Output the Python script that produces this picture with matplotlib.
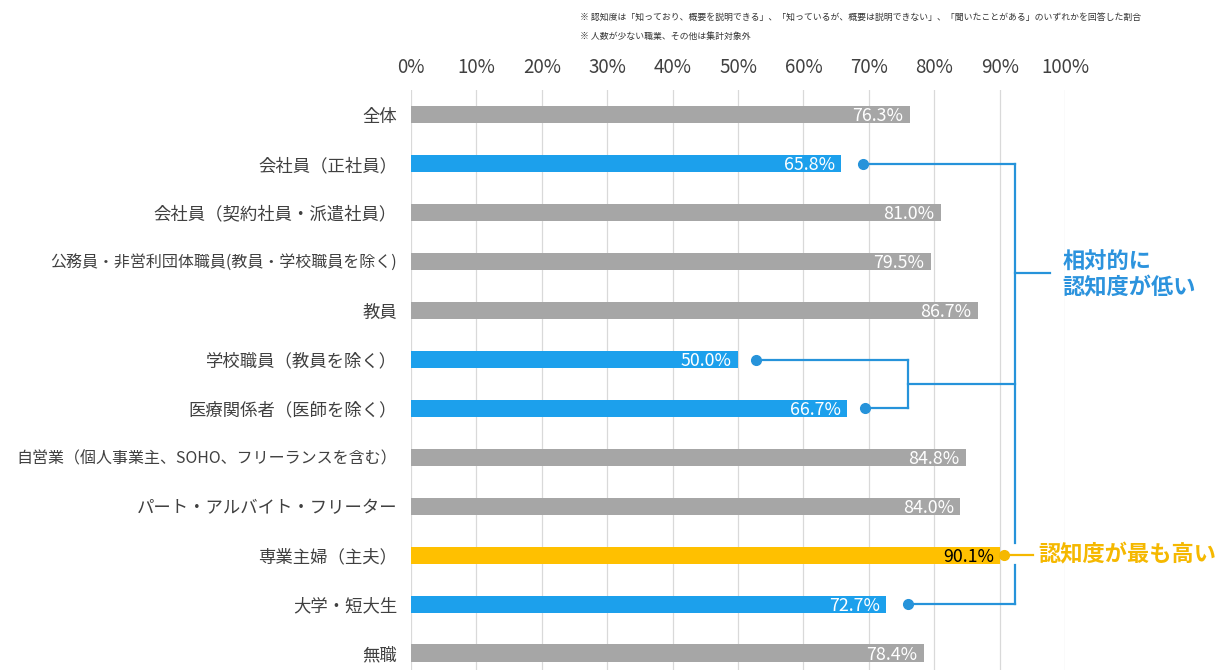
import matplotlib.pyplot as plt
import numpy as np

plt.rcParams['font.family'] = ['Noto Sans CJK JP', 'DejaVu Sans']

# データ
categories = ['全体', '会社員（正社員）', '会社員（契約社員・派遣社員）',
              '公務員・非営利団体職員(教員・学校職員を除く)', '教員',
              '学校職員（教員を除く）', '医療関係者（医師を除く）',
              '自営業（個人事業主、SOHO、フリーランスを含む）',
              'パート・アルバイト・フリーター', '専業主婦（主夫）', '大学・短大生', '無職']
values = [76.3, 65.8, 81.0, 79.5, 86.7, 50.0, 66.7, 84.8, 84.0, 90.1, 72.7, 78.4]
groups = ['other', 'low', 'other', 'other', 'other', 'low', 'low',
          'other', 'other', 'high', 'low', 'other']
ticks = [0, 10, 20, 30, 40, 50, 60, 70, 80, 90, 100]
tick_labels = [f'{t}%' for t in ticks]

colors = {'other': '#A6A6A6', 'low': '#1CA0EC', 'high': '#FFC000'}
line_blue = '#2693DA'
text_blue = '#2C93DD'
gold = '#F5B800'

fig = plt.figure(figsize=(12.29, 6.70), dpi=100)
ax = fig.add_axes([0.3344, -0.0112, 0.5322, 0.8762])

y_pos = np.arange(len(categories))
ax.barh(y_pos, values, height=0.35, color=[colors[g] for g in groups], zorder=3)

ax.set_xlim(0, 100)
ax.set_ylim(len(categories) - 0.5, -0.5)
ax.xaxis.tick_top()
ax.set_xticks(ticks)
ax.set_xticklabels(tick_labels, fontsize=13.5, color='#404040')
ax.set_yticks(y_pos)
ax.set_yticklabels(categories, fontsize=12.5, color='#404040')
# 長いラベルは少し小さく
for lab in ax.get_yticklabels():
    if len(lab.get_text()) > 22:
        lab.set_fontsize(11.5)
ax.tick_params(axis='x', length=0, pad=9)
ax.tick_params(axis='y', length=0, pad=10)
ax.xaxis.grid(True, color='#D9D9D9', linewidth=0.9, zorder=0)
for s in ax.spines.values():
    s.set_visible(False)

# 値ラベル
for y, v, g in zip(y_pos, values, groups):
    ax.text(v - 1.0, y + 0.03, f'{v:.1f}%', ha='right', va='center', fontsize=12.8,
            color='black' if g == 'high' else 'white', zorder=4)

# 相対的に低いグループの線
vx = 92.3
lw = 1.6
for i in [1, 10]:
    ax.plot([values[i] + 3.3, vx], [i, i], color=line_blue, lw=lw, clip_on=False, zorder=5)
    ax.plot(values[i] + 3.3, i, 'o', color=line_blue, ms=7, clip_on=False, zorder=5)
bx = 76.0
for i in [5, 6]:
    ax.plot([values[i] + 2.7, bx], [i, i], color=line_blue, lw=lw, clip_on=False, zorder=5)
    ax.plot(values[i] + 2.7, i, 'o', color=line_blue, ms=7, clip_on=False, zorder=5)
ax.plot([bx, bx], [5, 6], color=line_blue, lw=lw, zorder=5)
ax.plot([bx, vx], [5.5, 5.5], color=line_blue, lw=lw, zorder=5)
ax.plot([vx, vx], [1, 8.75], color=line_blue, lw=lw, zorder=5)
ax.plot([vx, vx], [9.2, 10], color=line_blue, lw=lw, zorder=5)
ax.plot([vx, 97.7], [3.23, 3.23], color=line_blue, lw=lw, zorder=5)
ax.text(99.6, 3.27, '相対的に\n認知度が低い', ha='left', va='center', fontsize=16,
        fontweight='bold', color=text_blue, linespacing=1.15)

# 最も高い
hi = groups.index('high')
ax.plot(values[hi] + 0.6, hi, 'o', color=gold, ms=7, clip_on=False, zorder=5)
ax.plot([values[hi] + 0.6, 95.1], [hi, hi], color=gold, lw=lw, clip_on=False, zorder=5)
ax.text(95.9, hi, '認知度が最も高い', ha='left', va='center', fontsize=16,
        fontweight='bold', color=gold, clip_on=False)

# 注記
fig.text(580 / 1229, 1 - 17 / 670,
         '※ 認知度は「知っており、概要を説明できる」、「知っているが、概要は説明できない」、「聞いたことがある」のいずれかを回答した割合',
         ha='left', va='center', fontsize=6.4, color='#333333')
fig.text(580 / 1229, 1 - 36 / 670, '※ 人数が少ない職業、その他は集計対象外',
         ha='left', va='center', fontsize=6.4, color='#333333')

fig.savefig('out.png', dpi=100)
